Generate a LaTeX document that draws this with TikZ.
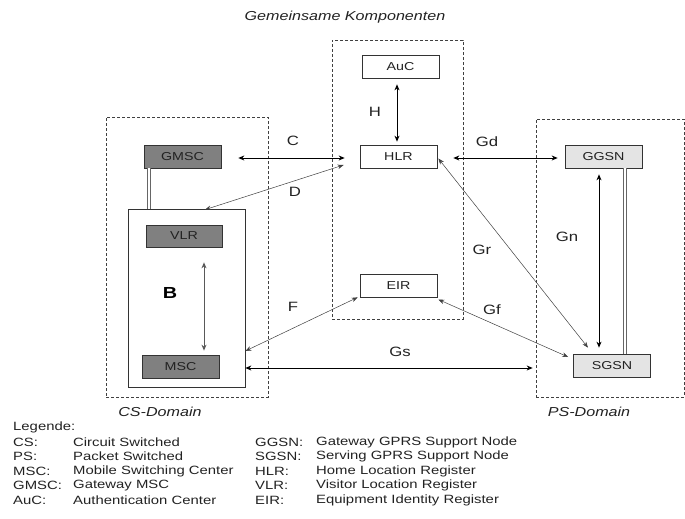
\documentclass[tikz,border=0pt]{standalone}
\usepackage{fontspec}
\setmainfont[FakeStretch=1.24]{Liberation Sans}
\usetikzlibrary{arrows.meta,calc}
\definecolor{txt}{HTML}{222222}
\definecolor{darkfill}{HTML}{808080}
\definecolor{lightfill}{HTML}{E4E4E4}
\begin{document}
\begin{tikzpicture}[x=1pt,y=-1pt,
  box/.style={draw=black!80, line width=0.7pt, minimum width=77pt, minimum height=23pt, inner sep=0pt, text=txt, font=\fontsize{11.5}{13}\selectfont},
  darkbox/.style={box, fill=darkfill},
  lightbox/.style={box, fill=lightfill},
  dom/.style={draw=black!75, dash pattern=on 3pt off 2pt, line width=0.7pt, inner sep=0pt},
  ital/.style={text=txt, font=\fontsize{13}{15}\selectfont\itshape, inner sep=0pt},
  lab/.style={text=txt, font=\fontsize{13.5}{15}\selectfont, inner sep=0pt},
  leg/.style={text=txt, anchor=west, font=\fontsize{12}{14}\selectfont, inner sep=0pt},
  arr/.style={{Stealth[length=6pt,width=5pt]}-{Stealth[length=6pt,width=5pt]}, line width=0.8pt, draw=black},
  arrg/.style={{Stealth[length=6pt,width=5pt]}-{Stealth[length=6pt,width=5pt]}, line width=0.9pt, draw=black!65},
  thin/.style={{Stealth[length=6pt,width=4.5pt]}-{Stealth[length=6pt,width=4.5pt]}, line width=0.5pt, draw=black!75},
  dbl/.style={draw=black!60, double=white, double distance=2.6pt, line width=0.7pt}
]
\useasboundingbox (0,0) rectangle (685,519);

% domains
\node[dom, minimum width=162pt, minimum height=280pt] (cs) at (187,257) {};
\node[dom, minimum width=131pt, minimum height=279pt] (mid) at (397.5,179.5) {};
\node[dom, minimum width=148pt, minimum height=278pt] (ps) at (610,258) {};

% titles
\node[ital] (ttl) at (345,17) {Gemeinsame Komponenten};
\node[ital] (csl) at (160,412) {CS-Domain};
\node[ital] (psl) at (589,412) {PS-Domain};

% boxes
\node[box] (auc) at (400.5,66.5) {AuC};
\node[box] (hlr) at (398.5,156.5) {HLR};
\node[box] (eir) at (398.5,285.5) {EIR};
\node[darkbox] (gmsc) at (182.5,156.5) {GMSC};
\node[draw=black!80, line width=0.7pt, minimum width=117pt, minimum height=178pt, inner sep=0pt] (bbox) at (186.5,298) {};
\node[darkbox, minimum width=76pt, minimum height=22pt] (vlr) at (184,236) {VLR};
\node[darkbox] (msc) at (180.5,366.5) {MSC};
\node[lightbox] (ggsn) at (603.5,156.5) {GGSN};
\node[lightbox] (sgsn) at (612,365.5) {SGSN};

% double lines
\draw[dbl] ($(gmsc.south)+(-33.5,0)$) -- ($(bbox.north)+(-37.5,0)$);
\draw[dbl] ($(ggsn.south)+(21.5,0)$) -- ($(sgsn.north)+(13,0)$);

% connectors
\draw[arr] ($(gmsc.east)+(17,1.5)$) -- ($(hlr.west)+(-15,1.5)$);
\draw[thin] ($(hlr.west)+(-16,8.5)$) -- ($(bbox.north)+(18.5,1)$);
\draw[thin] ($(bbox.east)+(0,53)$) -- ($(eir.south west)+(-2,0)$);
\draw[arr] ($(bbox.east)+(0,70)$) -- ($(ps.west)+(-3,110)$);
\draw[arr] ($(auc.south)+(-3.5,6)$) -- ($(hlr.north)+(-1.5,-3)$);
\draw[arr] ($(hlr.east)+(16,1.5)$) -- ($(ggsn.west)+(-7,1.5)$);
\draw[thin] ($(hlr.east)+(1,2)$) -- ($(sgsn.north)+(-24,-6)$);
\draw[thin] ($(eir.east)+(1,14)$) -- ($(sgsn.west)+(-5,-8.5)$);
\draw[arr] ($(ggsn.south)+(-4.5,6)$) -- ($(sgsn.north)+(-13,-6)$);
\draw[arrg] ($(vlr.south)+(20,15)$) -- ($(msc.north)+(23.5,-4)$);

% connector labels
\node[lab] (lC) at (293,141) {C};
\node[lab] (lD) at (295,192) {D};
\node[lab] (lF) at (293,307) {F};
\node[lab] (lH) at (375,112) {H};
\node[lab] (lGd) at (487,142) {Gd};
\node[lab] (lGr) at (482,250) {Gr};
\node[lab] (lGf) at (492,310) {Gf};
\node[lab] (lGn) at (567,237) {Gn};
\node[lab] (lGs) at (400,352) {Gs};
\node[text=black, font=\fontsize{16}{18}\selectfont\bfseries, inner sep=0pt] (lB) at (170,293) {B};

% legend
\node[leg] (lg) at (13,427) {Legende:};
\node[leg] (k1) at (13,442) {CS:};
\node[leg] (v1) at (73,442) {Circuit Switched};
\node[leg] (k2) at (13,456.5) {PS:};
\node[leg] (v2) at (73,456.5) {Packet Switched};
\node[leg] (k3) at (13,471) {MSC:};
\node[leg] (v3) at (73,471) {Mobile Switching Center};
\node[leg] (k4) at (13,485.5) {GMSC:};
\node[leg] (v4) at (73,485.5) {Gateway MSC};
\node[leg] (k5) at (13,500) {AuC:};
\node[leg] (v5) at (73,500) {Authentication Center};
\node[leg] (k6) at (255,442) {GGSN:};
\node[leg] (v6) at (316,442) {Gateway GPRS Support Node};
\node[leg] (k7) at (255,456.5) {SGSN:};
\node[leg] (v7) at (316,456.5) {Serving GPRS Support Node};
\node[leg] (k8) at (255,471) {HLR:};
\node[leg] (v8) at (316,471) {Home Location Register};
\node[leg] (k9) at (255,485.5) {VLR:};
\node[leg] (v9) at (316,485.5) {Visitor Location Register};
\node[leg] (k10) at (255,500) {EIR:};
\node[leg] (v10) at (316,500) {Equipment Identity Register};
\end{tikzpicture}
\end{document}
